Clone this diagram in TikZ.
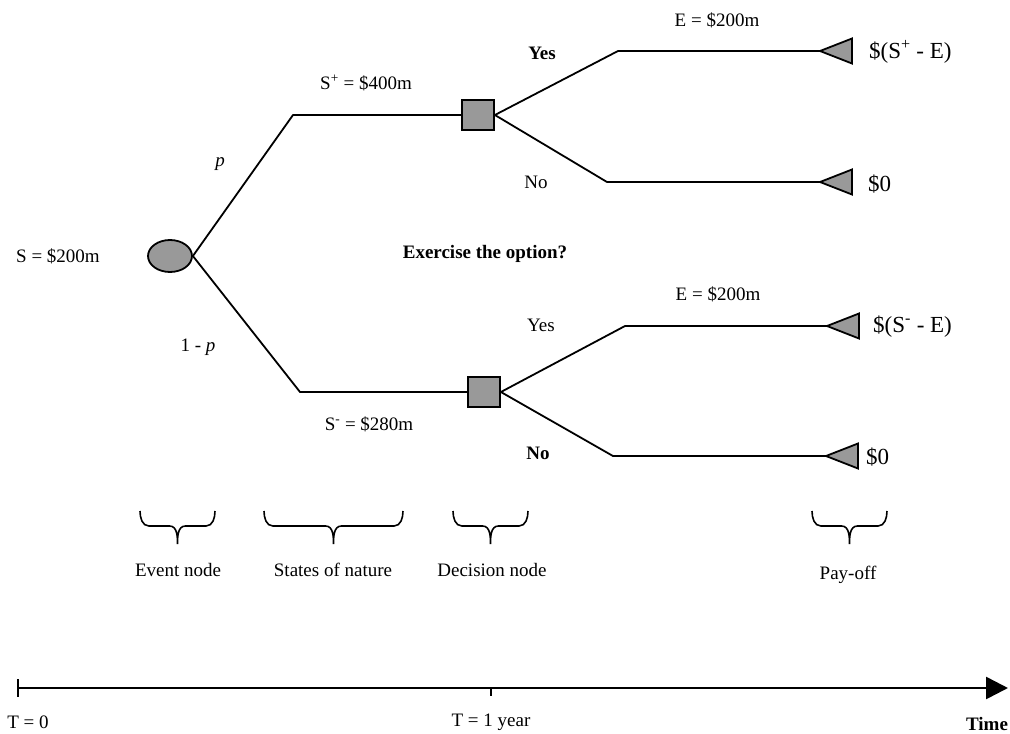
\documentclass[tikz,border=0pt]{standalone}
\usepackage{fontspec}
\setmainfont{Liberation Serif}
\usetikzlibrary{shapes.geometric,arrows.meta}
\definecolor{nodegray}{gray}{0.6}
\newcommand{\drawcurly}[2]{%
  \pgfmathsetmacro{\cxa}{#1+9}%
  \pgfmathsetmacro{\cxb}{(#1+#2)/2-8}%
  \pgfmathsetmacro{\cxm}{(#1+#2)/2}%
  \pgfmathsetmacro{\cxc}{(#1+#2)/2+8}%
  \pgfmathsetmacro{\cxd}{#2-9}%
  \draw[bracepath] (#1,511) to[out=-90,in=180] (\cxa,526) -- (\cxb,526)
    to[out=0,in=90] (\cxm,544) to[out=90,in=180] (\cxc,526)
    -- (\cxd,526) to[out=0,in=-90] (#2,511);}
\begin{document}
\begin{tikzpicture}[x=1pt,y=-1pt,
  branch/.style={line width=1.8pt, line join=round},
  lbl/.style={font=\fontsize{19}{22}\selectfont, inner sep=0pt},
  blbl/.style={font=\fontsize{19}{22}\selectfont\bfseries, inner sep=0pt},
  pay/.style={font=\fontsize{23}{26}\selectfont, inner sep=0pt, anchor=west},
  grayfill/.style={draw=black, line width=1.8pt, fill=nodegray},
  bracepath/.style={line width=1.6pt},
]
\useasboundingbox (0,0) rectangle (1010,734);

% nodes
\node[grayfill, ellipse, minimum width=44pt, minimum height=32pt, inner sep=0pt] (ev) at (170,256) {};
\node[grayfill, rectangle, minimum width=32pt, minimum height=30pt, inner sep=0pt] (d1) at (478,115) {};
\node[grayfill, rectangle, minimum width=32pt, minimum height=30pt, inner sep=0pt] (d2) at (484,392) {};

% elbow points
\coordinate (u1) at (293,115);
\coordinate (l1) at (300,392);
\coordinate (uy) at (618,51);
\coordinate (un) at (607,182);
\coordinate (ly) at (625,326);
\coordinate (ln) at (613,456);

% payoff triangle tips
\coordinate (t1) at (820,51);
\coordinate (t2) at (820,182);
\coordinate (t3) at (827,326);
\coordinate (t4) at (826,456);

% connectors
\draw[branch] (ev.east) -- (u1) -- (d1.west);
\draw[branch] (ev.east) -- (l1) -- (d2.west);
\draw[branch] (d1.east) -- (uy) -- (t1);
\draw[branch] (d1.east) -- (un) -- (t2);
\draw[branch] (d2.east) -- (ly) -- (t3);
\draw[branch] (d2.east) -- (ln) -- (t4);

% triangles
\foreach \t in {t1,t2,t3,t4}{
  \filldraw[grayfill, line join=miter] (\t) -- ++(32,-12.5) -- ++(0,25) -- cycle;
}

% payoff labels
\node[pay] (p1) at (869,52) {\$(S\textsuperscript{+} - E)};
\node[pay] (p2) at (868,184) {\$0};
\node[pay] (p3) at (873,327) {\$(S\textsuperscript{-} - E)};
\node[pay] (p4) at (866,457) {\$0};

% labels
\node[lbl] (s0) at (58,256) {S = \$200m};
\node[lbl] (pp) at (220,164) {\itshape p};
\node[lbl] (qq) at (198,347) {1 - \itshape p};
\node[lbl] (sp) at (366,83) {S\textsuperscript{+} = \$400m};
\node[lbl] (sm) at (369,424) {S\textsuperscript{-} = \$280m};
\node[lbl] (e1) at (717,20) {E = \$200m};
\node[lbl] (e2) at (718,294) {E = \$200m};
\node[blbl] (y1) at (542,53) {Yes};
\node[lbl] (n1) at (536,182) {No};
\node[lbl] (y2) at (541,325) {Yes};
\node[blbl] (n2) at (538,453) {No};
\node[blbl] (ex) at (485,254) {Exercise the option?};

% braces
\drawcurly{140}{215}
\drawcurly{264}{403}
\drawcurly{453}{528}
\drawcurly{812}{887}
\node[lbl] (b1) at (178,570) {Event node};
\node[lbl] (b2) at (333,570) {States of nature};
\node[lbl] (b3) at (492,570) {Decision node};
\node[lbl] (b4) at (848,575) {Pay-off};

% time axis
\coordinate (tl) at (18,688);
\coordinate (tr) at (1008,688);
\coordinate (tm) at (491,688);
\draw[line width=2.6pt, -{Triangle[length=22pt,width=22pt]}] (tl) -- (tr);
\draw[line width=1.4pt] (18,679) -- (18,697);
\draw[line width=1.2pt] (tm) -- ++(0,8);
\node[lbl] (T0) at (28,722) {T = 0};
\node[lbl] (T1) at (491,722) {T = 1 year};
\node[blbl] (Tt) at (987,724) {Time};
\end{tikzpicture}
\end{document}
